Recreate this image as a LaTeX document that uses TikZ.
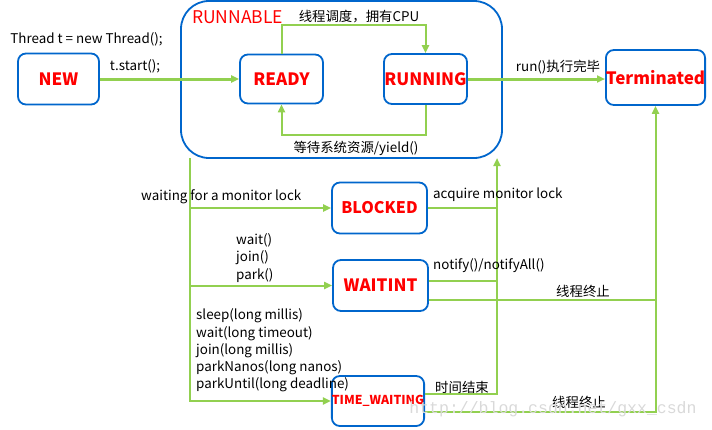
\documentclass[tikz,border=0pt]{standalone}
\usepackage{fontspec}
\setmainfont{Noto Sans CJK SC}
\newfontfamily\markfont{Liberation Mono}
\usetikzlibrary{arrows.meta,positioning}
\definecolor{boxblue}{RGB}{0,102,204}
\definecolor{linegreen}{RGB}{146,208,80}

\begin{document}
\begin{tikzpicture}[x=1pt,y=-1pt,
  state/.style={draw=boxblue,line width=1.8pt,rounded corners=8pt,fill=white,
    text=red,font=\fontsize{17}{19}\selectfont\bfseries,inner sep=0pt},
  flow/.style={draw=linegreen,line width=2pt},
  go/.style={flow,-{Triangle[length=8pt,width=7pt]}},
  lbl/.style={font=\fontsize{13.4}{17.3}\selectfont,inner sep=0pt,align=left}]
\useasboundingbox (0,0) rectangle (712,429);

% runnable frame
\draw[boxblue,line width=1.8pt,rounded corners=28pt] (181,1) rectangle (502,158);
\node[anchor=west,text=red,font=\fontsize{17.5}{19}\selectfont,inner sep=0pt] (runnable) at (192,17) {RUNNABLE};

% states
\node[state,minimum width=81,minimum height=51] (new) at (58.5,79) {NEW};
\node[state,minimum width=83,minimum height=49] (ready) at (281.5,79) {READY};
\node[state,minimum width=83,minimum height=50] (running) at (425.5,79) {RUNNING};
\node[state,minimum width=91,minimum height=55] (term) at (655.5,77.5) {Terminated};
\node[state,minimum width=95,minimum height=51,font=\fontsize{16}{19}\selectfont\bfseries] (blocked) at (379.5,208) {BLOCKED};
\node[state,minimum width=95,minimum height=51] (waitint) at (380.5,285.5) {WAITINT};
\node[state,minimum width=92,minimum height=50,font=\fontsize{12.3}{15}\selectfont\bfseries] (timed) at (378,401) {TIME\_WAITING};

\coordinate (lt) at (189.5,158);
\coordinate (rt) at (497,158);

% connectors
\draw[go,line width=3pt] (new) -- (ready);
\draw[go,line width=3pt] (running) -- (running -| term.west);
\draw[go] (ready.north) -- ++(0,-29) -| (running.north);
\draw[go] (running.south) -- ++(0,30) -| (ready.south);
\draw[go] (lt) |- (timed.west);
\draw[go] (lt |- blocked) -- (blocked.west);
\draw[go] (lt |- waitint) -- (waitint.west);
\draw[flow] (blocked.east) -- (blocked -| rt);
\draw[flow] ([yshift=4.5pt]waitint.east) -- ++(69,0);
\draw[go] ([yshift=7pt]timed.east) -| (rt);
\draw[flow] ([yshift=-14.5pt]waitint.east) -- ++(227.5,0);
\draw[go] ([yshift=-11pt]timed.east) -| (term.south);

% labels
\node[lbl] (sched) at (359,17) {线程调度，拥有CPU};
\node[lbl] (yield) at (356,148) {等待系统资源/yield()};
\node[lbl] (create) at (86.5,39) {Thread t = new Thread();};
\node[lbl] (start) at (135,66) {t.start();};
\node[lbl] (runend) at (558,67) {run()执行完毕};
\node[lbl,anchor=west] (lockwait) at (141,197) {waiting for a monitor lock};
\node[lbl,anchor=west] (lockget) at (433,195) {acquire monitor lock};
\node[lbl,anchor=west] (waitcalls) at (236,258) {wait()\\join()\\park()};
\node[lbl,anchor=west] (notify) at (433,266) {notify()/notifyAll()};
\node[lbl] (stop1) at (583,291) {线程终止};
\node[lbl,anchor=west] (timecalls) at (196,350.5) {sleep(long millis)\\wait(long timeout)\\join(long millis)\\parkNanos(long nanos)\\parkUntil(long deadline)};
\node[lbl] (timeout) at (462,387) {时间结束};
\node[lbl] (stop2) at (579,402) {线程终止};

% watermark
\node[text=gray!30,font=\markfont\fontsize{16.5}{18}\selectfont,inner sep=0pt] (mark) at (553,409) {http://blog.csdn.net/gxx\_csdn};
\end{tikzpicture}
\end{document}
